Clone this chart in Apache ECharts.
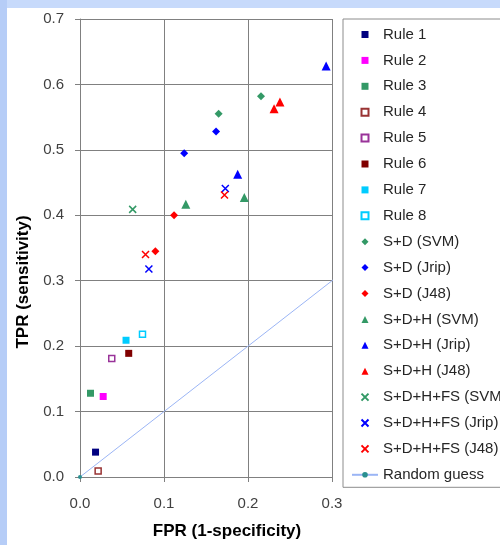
<!DOCTYPE html>
<html>
<head>
<meta charset="utf-8">
<title>ROC points</title>
<script src="https://cdn.jsdelivr.net/npm/echarts@6/dist/echarts.min.js"></script>
<style>
    html, body { margin: 0; padding: 0; background: #fff; }
    #chart { width: 500px; height: 545px; }
</style>
</head>
<body>
<div id="chart"></div>
<script>
// Data: [FPR, TPR] per series
const seriesNames = [
    'Rule 1', 'Rule 2', 'Rule 3', 'Rule 4', 'Rule 5', 'Rule 6', 'Rule 7', 'Rule 8',
    'S+D (SVM)', 'S+D (Jrip)', 'S+D (J48)',
    'S+D+H (SVM)', 'S+D+H (Jrip)', 'S+D+H (J48)',
    'S+D+H+FS (SVM)', 'S+D+H+FS (Jrip)', 'S+D+H+FS (J48)',
    'Random guess'
];
const rule1 = [[0.0185, 0.038]];
const rule2 = [[0.0276, 0.123]];
const rule3 = [[0.0125, 0.128]];
const rule4 = [[0.0216, 0.009]];
const rule5 = [[0.0378, 0.181]];
const rule6 = [[0.058, 0.189]];
const rule7 = [[0.0548, 0.209]];
const rule8 = [[0.0744, 0.218]];
const sdSvm = [[0.165, 0.555], [0.2155, 0.582]];
const sdJrip = [[0.124, 0.495], [0.162, 0.528]];
const sdJ48 = [[0.112, 0.400], [0.0897, 0.345]];
const sdhSvm = [[0.126, 0.417], [0.1956, 0.427]];
const sdhJrip = [[0.293, 0.628], [0.1877, 0.4627]];
const sdhJ48 = [[0.231, 0.563], [0.238, 0.573]];
const sdhfsSvm = [[0.0627, 0.409]];
const sdhfsJrip = [[0.173, 0.441], [0.082, 0.318]];
const sdhfsJ48 = [[0.172, 0.431], [0.078, 0.340]];
const randomGuess = [[0, 0], [1, 1]];

const xTicks = { min: 0, max: 0.3, step: 0.1 };
const yTicks = { min: 0, max: 0.7, step: 0.1 };

document.addEventListener('DOMContentLoaded', function() {
    const chart = echarts.init(document.getElementById('chart'), null, { renderer: 'canvas' });
    const font = 'Liberation Sans';

    // path symbols keep their aspect in the legend, built-in ones get stretched
    const rectPath = 'path://M0,0 L10,0 L10,10 L0,10 Z';
    const diamondPath = 'path://M5,0 L10,5 L5,10 L0,5 Z';
    const trianglePath = 'path://M5,0 L10,10 L0,10 Z';
    const crossPath = 'path://M0,0 L10,10 M10,0 L0,10';

    function filled(name, data, symbol, size, color) {
        return {
            name: name, type: 'scatter', data: data,
            symbol: symbol, symbolSize: size,
            itemStyle: { color: color, opacity: 1 }
        };
    }

    function hollow(name, data, color) {
        return {
            name: name, type: 'scatter', data: data,
            symbol: rectPath, symbolSize: 6,
            itemStyle: { color: '#fff', borderColor: color, borderWidth: 1.5, opacity: 1 }
        };
    }

    function cross(name, data, color) {
        return {
            name: name, type: 'scatter', data: data,
            symbol: crossPath, symbolSize: 7,
            itemStyle: { color: '#fff', borderColor: color, borderWidth: 1.5, opacity: 1 }
        };
    }

    const green = '#339966';
    const blue = '#0000ff';
    const red = '#ff0000';

    const series = [
        filled(seriesNames[0], rule1, rectPath, 7, '#000080'),
        filled(seriesNames[1], rule2, rectPath, 7, '#ff00ff'),
        filled(seriesNames[2], rule3, rectPath, 7, green),
        hollow(seriesNames[3], rule4, '#993333'),
        hollow(seriesNames[4], rule5, '#993399'),
        filled(seriesNames[5], rule6, rectPath, 7, '#800000'),
        filled(seriesNames[6], rule7, rectPath, 7, '#00ccff'),
        hollow(seriesNames[7], rule8, '#00ccff'),
        filled(seriesNames[8], sdSvm, diamondPath, 8, green),
        filled(seriesNames[9], sdJrip, diamondPath, 8, blue),
        filled(seriesNames[10], sdJ48, diamondPath, 8, red),
        filled(seriesNames[11], sdhSvm, trianglePath, 9, green),
        filled(seriesNames[12], sdhJrip, trianglePath, 9, blue),
        filled(seriesNames[13], sdhJ48, trianglePath, 9, red),
        cross(seriesNames[14], sdhfsSvm, green),
        cross(seriesNames[15], sdhfsJrip, blue),
        cross(seriesNames[16], sdhfsJ48, red),
        {
            name: seriesNames[17], type: 'line', data: randomGuess,
            symbol: 'circle', symbolSize: 4, clip: true,
            lineStyle: { color: '#9bb5f5', width: 1 },
            itemStyle: { color: '#2a9090' }
        }
    ];

    const gridLine = '#808080';

    chart.setOption({
        animation: false,
        backgroundColor: '#fff',
        graphic: [
            { type: 'rect', shape: { x: 0, y: 0, width: 500, height: 8 }, style: { fill: '#c7dafb' }, silent: true },
            { type: 'rect', shape: { x: 0, y: 0, width: 7, height: 545 }, style: { fill: '#b6cdf7' }, silent: true }
        ],
        grid: { left: 80, top: 19, right: 168, bottom: 64 },
        legend: {
            orient: 'vertical',
            left: 343, top: 19,
            padding: [7, 8, 4, 8],
            itemWidth: 26, itemHeight: 7, itemGap: 8.9,
            symbolKeepAspect: true,
            borderColor: '#8c8c8c', borderWidth: 1,
            selectedMode: false,
            textStyle: { fontFamily: font, fontSize: 15, color: '#262626', lineHeight: 17 },
            data: seriesNames
        },
        xAxis: {
            type: 'value',
            min: xTicks.min, max: xTicks.max, interval: xTicks.step,
            name: 'FPR (1-specificity)',
            nameLocation: 'middle', nameGap: 46,
            nameTextStyle: { fontFamily: font, fontSize: 17, fontWeight: 'bold', color: '#000', padding: [0, 0, 0, 42] },
            axisLine: { show: true, lineStyle: { color: gridLine } },
            axisTick: { show: true, length: 5, lineStyle: { color: gridLine } },
            axisLabel: { margin: 19, fontFamily: font, fontSize: 15, color: '#404040',
                formatter: function(v) { return v.toFixed(1); } },
            splitLine: { show: true, lineStyle: { color: gridLine } }
        },
        yAxis: {
            type: 'value',
            min: yTicks.min, max: yTicks.max, interval: yTicks.step,
            name: 'TPR (sensitivity)',
            nameLocation: 'middle', nameGap: 47,
            nameTextStyle: { fontFamily: font, fontSize: 17, fontWeight: 'bold', color: '#000', padding: [0, 68, 0, 0] },
            axisLine: { show: true, lineStyle: { color: gridLine } },
            axisTick: { show: true, length: 5, lineStyle: { color: gridLine } },
            axisLabel: { margin: 16, fontFamily: font, fontSize: 15, color: '#404040',
                formatter: function(v) { return v.toFixed(1); } },
            splitLine: { show: true, lineStyle: { color: gridLine } }
        },
        series: series
    });
});
</script>
</body>
</html>
